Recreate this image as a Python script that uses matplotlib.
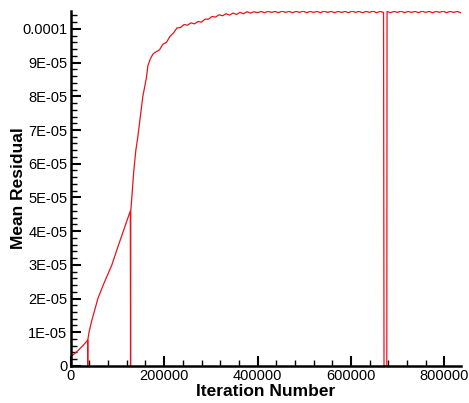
import numpy as np
import matplotlib
matplotlib.use("Agg")
import matplotlib.pyplot as plt
from matplotlib.ticker import MultipleLocator, FixedLocator, FixedFormatter

plt.rcParams['font.family'] = ['Liberation Sans', 'DejaVu Sans']

# startup + first restarts (residual in units of 1e-5)
head_x = [0, 5000, 15000, 25000, 36000, 36200, 36500,
          39000, 45000, 50000, 58000, 70000, 88000, 100000, 115000, 127500,
          128000, 128500,
          130700, 135000, 139300, 143600, 154300, 162000, 165000, 170000,
          175800, 180000, 186500]
head_y = [0.28, 0.33, 0.45, 0.59, 0.76, 0.0, 0.78,
          1.0, 1.35, 1.6, 2.0, 2.42, 3.0, 3.5, 4.1, 4.6,
          0.0, 4.6,
          5.0, 5.8, 6.4, 6.8, 8.0, 8.55, 8.9, 9.1,
          9.25, 9.3, 9.35]

# converged part, sampled every 7500 iterations from 190000
tail_start, tail_step = 190000, 7500
tail_y = [9.38, 9.55, 9.60, 9.78, 9.88, 10.03, 10.04, 10.13, 10.11, 10.18,
          10.15, 10.22, 10.20, 10.29, 10.29, 10.37, 10.35, 10.42, 10.39, 10.45,
          10.41, 10.47, 10.43, 10.49, 10.45, 10.51, 10.47, 10.51, 10.48, 10.52,
          10.48, 10.52, 10.49, 10.52, 10.48, 10.53, 10.49, 10.52, 10.48, 10.52,
          10.49, 10.53, 10.48, 10.52, 10.49, 10.52, 10.48, 10.53, 10.49, 10.52,
          10.48, 10.52, 10.49, 10.52, 10.48, 10.53, 10.49, 10.52, 10.48, 10.52,
          10.49, 10.53, 10.48, 10.52, 10.49, 10.52, 10.48, 10.52, 10.49, 10.53,
          10.48, 10.52, 10.49, 10.52, 10.48, 10.53, 10.49, 10.52, 10.48, 10.52,
          10.49, 10.53, 10.48, 10.52, 10.49, 10.52, 10.48]

# solver dropout where residual reads zero
drop_x = [671000, 677000]

ytick_vals = [0, 1e-5, 2e-5, 3e-5, 4e-5, 5e-5, 6e-5, 7e-5, 8e-5, 9e-5, 1e-4]
ytick_labels = ["0", "1E-05", "2E-05", "3E-05", "4E-05", "5E-05",
                "6E-05", "7E-05", "8E-05", "9E-05", "0.0001"]

tail_x = tail_start + tail_step * np.arange(len(tail_y))
tail_y = np.array(tail_y)
before = tail_x < drop_x[0]

x = np.concatenate([head_x, tail_x[before], drop_x, tail_x[~before]])
y = np.concatenate([head_y, tail_y[before], [0, 0], tail_y[~before]]) * 1e-5

fig = plt.figure(figsize=(4.69, 4.03), dpi=100)
ax = fig.add_axes([0.151, 0.092, 0.832, 0.881])
ax.plot(x, y, color='#e8141c', lw=0.9)

ax.set_xlim(0, 836000)
ax.set_ylim(0, 1.0535e-4)

ax.xaxis.set_major_locator(MultipleLocator(200000))
ax.xaxis.set_minor_locator(MultipleLocator(40000))
ax.yaxis.set_major_locator(FixedLocator(ytick_vals))
ax.yaxis.set_major_formatter(FixedFormatter(ytick_labels))
ax.yaxis.set_minor_locator(MultipleLocator(2e-6))
ax.xaxis.set_major_formatter(plt.FuncFormatter(lambda v, p: "%d" % v))

for s in ['top', 'right']:
    ax.spines[s].set_visible(False)
for s in ['left', 'bottom']:
    ax.spines[s].set_linewidth(1.8)

ax.tick_params(which='major', direction='in', length=7, width=1.5,
               labelsize=10.5, pad=2.5)
ax.tick_params(which='minor', direction='in', length=4, width=1.0)

ax.set_xlabel("Iteration Number", fontsize=12.5, fontweight='bold')
ax.set_ylabel("Mean Residual", fontsize=12.5, fontweight='bold')
ax.xaxis.set_label_coords(0.5, -0.073)
ax.xaxis.label.set_va('center')
ax.yaxis.set_label_coords(-0.133, 0.5)
ax.yaxis.label.set_va('center')

fig.savefig("out.png", dpi=100)
